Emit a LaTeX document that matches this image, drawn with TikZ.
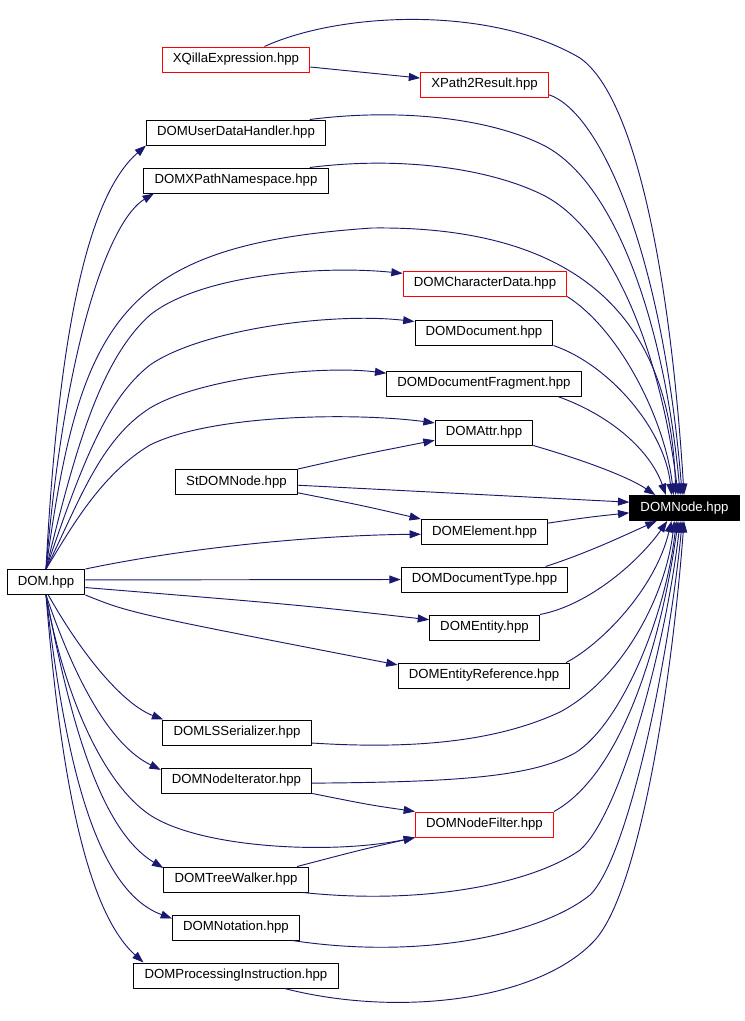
\documentclass[tikz,border=0pt]{standalone}
\usepackage{fontspec}
\setmainfont{Liberation Sans}
\usetikzlibrary{arrows.meta}
\definecolor{edgeblue}{HTML}{191970}
\tikzset{
  file/.style={draw=black, fill=white, line width=0.75pt, minimum height=18.75pt, inner xsep=8pt, inner ysep=0pt},
  redfile/.style={file, draw=red},
  mainfile/.style={file, fill=black, text=white},
  dep/.style={draw=edgeblue, line width=0.7pt, -{Triangle[length=8.5pt,width=6pt]}}
}
\begin{document}
\begin{tikzpicture}[x=0.75pt, y=-0.75pt, font=\fontsize{9.9}{11}\selectfont, line join=round]
			\useasboundingbox (0,0) rectangle (744,1021);
			\node[redfile] (xqilla) at (236,59.5) {XQillaExpression.hpp};
			\node[redfile] (xpath2) at (484.5,84.5) {XPath2Result.hpp};
			\node[file] (udh) at (236,132.5) {DOMUserDataHandler.hpp};
			\node[file] (xpn) at (236,180.5) {DOMXPathNamespace.hpp};
			\node[redfile] (chardata) at (485,283.5) {DOMCharacterData.hpp};
			\node[file] (document) at (484,332.5) {DOMDocument.hpp};
			\node[file] (docfrag) at (484,383.5) {DOMDocumentFragment.hpp};
			\node[file] (attr) at (484,432.5) {DOMAttr.hpp};
			\node[file] (stdom) at (236.5,482) {StDOMNode.hpp};
			\node[mainfile] (domnode) at (684.5,508) {DOMNode.hpp};
			\node[file] (element) at (484.5,532) {DOMElement.hpp};
			\node[file] (dom) at (46,582) {DOM.hpp};
			\node[file] (doctype) at (484.5,579.5) {DOMDocumentType.hpp};
			\node[file] (entity) at (484.5,627.5) {DOMEntity.hpp};
			\node[file] (entref) at (484,675.5) {DOMEntityReference.hpp};
			\node[file] (lss) at (237,732.5) {DOMLSSerializer.hpp};
			\node[file] (nodeiter) at (236.5,780.5) {DOMNodeIterator.hpp};
			\node[redfile] (nfilter) at (484.5,824.5) {DOMNodeFilter.hpp};
			\node[file] (twalker) at (236,879.5) {DOMTreeWalker.hpp};
			\node[file] (notation) at (236,927.5) {DOMNotation.hpp};
			\node[file] (procinstr) at (236,975.5) {DOMProcessingInstruction.hpp};
			\draw[dep] (xqilla) .. controls (340,70) .. (xpath2);
			\draw[dep] (xqilla) .. controls (340,12) and (490,5) .. (580,58) .. controls (640,100) and (672,300) .. (domnode.92);
			\draw[dep] (xpath2.-9) .. controls (600,112) and (662,250) .. (domnode.100);
			\draw[dep] (udh.10) .. controls (400,108) and (490,118) .. (545,146) .. controls (618,185) and (665,330) .. (domnode.108);
			\draw[dep] (xpn.10.6) .. controls (400,156) and (490,168) .. (545,196) .. controls (612,232) and (660,350) .. (domnode.116);
			\draw[dep] (chardata.-9.5) .. controls (620,330) and (665,420) .. (domnode.130);
			\draw[dep] (document.south east) .. controls (610,365) and (665,430) .. (domnode.135);
			\draw[dep] (docfrag.-10) .. controls (610,415) and (650,450) .. (domnode.145);
			\draw[dep] (attr.south east) .. controls (590,462) and (630,478) .. (domnode.156);
			\draw[dep] (dom.north) .. controls (60,300) and (95,190) .. (udh.south west);
			\draw[dep] (dom.north) .. controls (65,340) and (110,220) .. (xpn.-171);
			\draw[dep] (dom.north) .. controls (80,320) and (120,245) .. (372,228) .. controls (620,225) and (672,360) .. (domnode.124);
			\draw[dep] (dom.north) .. controls (75,450) and (100,360) .. (150,315) .. controls (200,275) and (320,265) .. (chardata.173);
			\draw[dep] (dom.north) .. controls (80,470) and (105,400) .. (150,365) .. controls (200,330) and (330,312) .. (document.171);
			\draw[dep] (dom.north) .. controls (80,500) and (100,440) .. (150,408) .. controls (200,378) and (320,365) .. (docfrag.174);
			\draw[dep] (dom.north) .. controls (70,530) and (100,475) .. (150,445) .. controls (210,415) and (350,412) .. (attr.169);
			\draw[dep] (stdom.north east) .. controls (360,455) .. (attr.189);
			\draw[dep] (stdom.-3) .. controls (450,493) .. (domnode.174);
			\draw[dep] (stdom.-10) .. controls (360,505) .. (element.north west);
			\draw[dep] (dom.north east) .. controls (200,545) and (330,535) .. (element.-178);
			\draw[dep] (element.8) .. controls (590,517) .. (domnode.-175);
			\draw[dep] (dom.3) -- (doctype.west);
			\draw[dep] (doctype.12) .. controls (590,552) and (625,535) .. (domnode.-155);
			\draw[dep] (dom.-8) .. controls (300,605) .. (entity.172);
			\draw[dep] (entity.north east) .. controls (590,605) and (640,560) .. (domnode.-143);
			\draw[dep] (dom.south east) .. controls (130,613) .. (entref.173);
			\draw[dep] (entref.9.5) .. controls (600,645) and (655,590) .. (domnode.-135);
			\draw[dep] (dom.-80) .. controls (85,660) and (125,705) .. (lss.170);
			\draw[dep] (lss.-8) .. controls (420,750) and (500,740) .. (560,712) .. controls (620,680) and (665,600) .. (domnode.-128);
			\draw[dep] (dom.south) .. controls (75,680) and (110,745) .. (nodeiter.172);
			\draw[dep] (nodeiter.-2) .. controls (450,782) and (530,778) .. (575,753) .. controls (620,725) and (665,620) .. (domnode.-122);
			\draw[dep] (nodeiter.south east) .. controls (370,805) .. (nfilter.north west);
			\draw[dep] (dom.south) .. controls (65,700) and (105,785) .. (150,815) .. controls (200,848) and (330,855) .. (nfilter.south west);
			\draw[dep] (nfilter.north east) .. controls (620,775) and (660,650) .. (domnode.-116);
			\draw[dep] (dom.south) .. controls (70,720) and (100,830) .. (twalker.171);
			\draw[dep] (twalker.12.4) .. controls (360,850) .. (nfilter.south west);
			\draw[dep] (twalker.-11) .. controls (420,905) and (530,885) .. (580,850) .. controls (620,815) and (665,650) .. (domnode.-108);
			\draw[dep] (dom.south) .. controls (65,760) and (95,890) .. (notation.172);
			\draw[dep] (notation.-13) .. controls (420,960) and (540,935) .. (590,895) .. controls (630,855) and (670,650) .. (domnode.-100);
			\draw[dep] (dom.south) .. controls (60,770) and (85,910) .. (procinstr.172);
			\draw[dep] (procinstr.-15) .. controls (400,1018) and (540,1000) .. (595,940) .. controls (640,890) and (672,680) .. (domnode.-92);
\end{tikzpicture}
\end{document}
